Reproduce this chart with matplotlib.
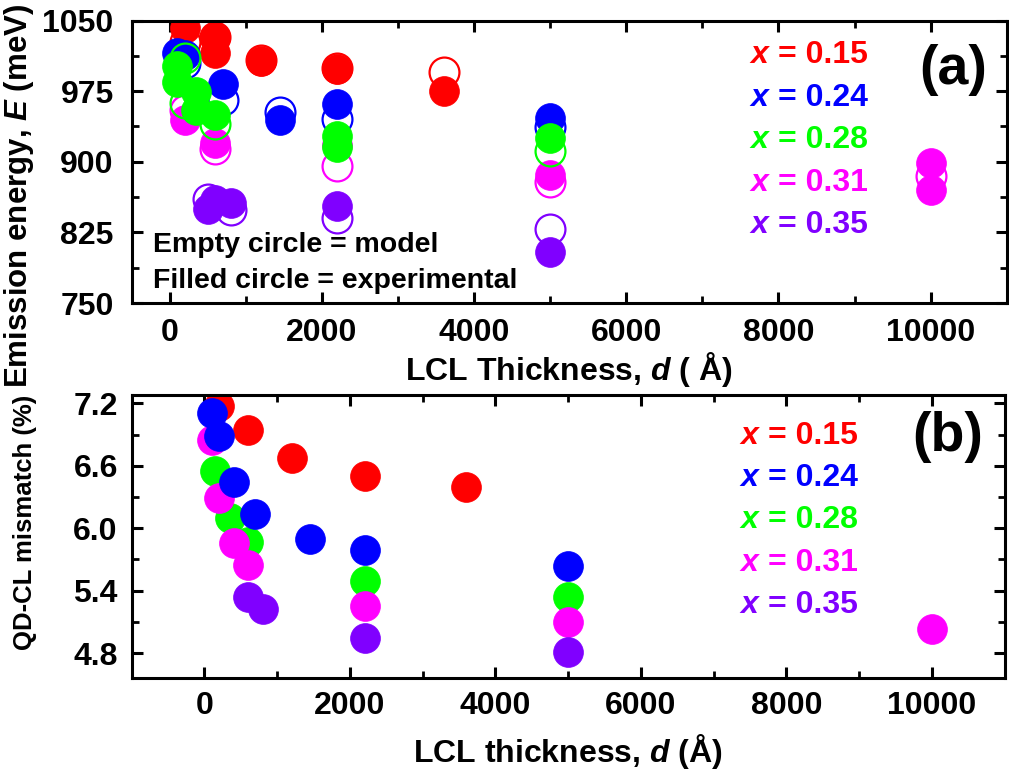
import matplotlib
matplotlib.use("Agg")
import matplotlib.pyplot as plt
from matplotlib.ticker import MultipleLocator

plt.rcParams['font.family'] = ['Liberation Sans', 'DejaVu Sans']
plt.rcParams['font.weight'] = 'bold'
plt.rcParams['mathtext.fontset'] = 'custom'
plt.rcParams['mathtext.rm'] = 'Liberation Sans:bold'
plt.rcParams['mathtext.it'] = 'Liberation Sans:italic:bold'
plt.rcParams['mathtext.bf'] = 'Liberation Sans:bold'

# Compositions and colours
compositions = ['0.15', '0.24', '0.28', '0.31', '0.35']
colors = ['#FF0000', '#0000FF', '#00FF00', '#FF00FF', '#8000FF']

# (a) emission energy (meV) vs LCL thickness (Å): model (open) and experimental (filled)
model_d = {
    '0.15': [200, 600, 1200, 2200, 3600],
    '0.24': [200, 700, 1450, 2200, 5000],
    '0.28': [200, 200, 600, 5000],
    '0.31': [200, 600, 2200, 5000, 10000],
    '0.35': [500, 800, 2200, 5000],
}
model_E = {
    '0.15': [1027, 1033, 1008, 1000, 995],
    '0.24': [1005, 966, 953, 945, 937],
    '0.28': [1010, 962, 940, 911],
    '0.31': [955, 914, 895, 879, 885],
    '0.35': [860, 849, 840, 829],
}
exp_d = {
    '0.15': [200, 600, 600, 1200, 2200, 3600],
    '0.24': [100, 200, 700, 1450, 2200, 5000],
    '0.28': [100, 100, 350, 350, 600, 2200, 2200, 5000],
    '0.31': [200, 600, 2200, 5000, 10000, 10000],
    '0.35': [500, 600, 800, 2200, 5000],
}
exp_E = {
    '0.15': [1042, 1033, 1015, 1007, 998, 975],
    '0.24': [1015, 1013, 983, 944, 961, 946],
    '0.28': [1002, 985, 974, 955, 950, 927, 916, 925],
    '0.31': [944, 920, 918, 886, 899, 870],
    '0.35': [850, 859, 856, 853, 804],
}

# (b) QD-CL lattice mismatch (%) vs LCL thickness (Å)
mis_d = {
    '0.15': [200, 600, 1200, 2200, 3600],
    '0.24': [100, 200, 400, 700, 1450, 2200, 5000],
    '0.28': [150, 350, 600, 2200, 5000],
    '0.31': [100, 200, 400, 600, 2200, 5000, 10000],
    '0.35': [600, 800, 2200, 5000],
}
mis_val = {
    '0.15': [7.17, 6.94, 6.67, 6.50, 6.40],
    '0.24': [7.11, 6.89, 6.44, 6.14, 5.90, 5.79, 5.64],
    '0.28': [6.55, 6.10, 5.87, 5.49, 5.34],
    '0.31': [6.85, 6.29, 5.86, 5.65, 5.25, 5.10, 5.03],
    '0.35': [5.34, 5.22, 4.94, 4.81],
}

color_of = dict(zip(compositions, colors))
order_a = ['0.15', '0.31', '0.24', '0.28', '0.35']
order_b = ['0.15', '0.28', '0.31', '0.24', '0.35']

MS = 21.5
FS = 23
fig = plt.figure(figsize=(10.09, 7.70), dpi=100)
ax_a = fig.add_axes([131.7 / 1009, 1 - 303 / 770, 875 / 1009, 282.5 / 770])
ax_b = fig.add_axes([131.7 / 1009, 1 - 678 / 770, 873 / 1009, 283 / 770])

for k in order_a:
    c = color_of[k]
    ax_a.plot(model_d[k], model_E[k], 'o', ls='none', ms=MS, mfc='none',
              mec=c, mew=1.6)
    ax_a.plot(exp_d[k], exp_E[k], 'o', ls='none', ms=MS, mfc=c, mec=c, mew=0.5)

for k in order_b:
    c = color_of[k]
    ax_b.plot(mis_d[k], mis_val[k], 'o', ls='none', ms=MS, mfc=c, mec=c, mew=0.5)

ax_a.set_xlim(-500, 11000)
ax_a.set_ylim(750, 1050)
ax_a.xaxis.set_major_locator(MultipleLocator(2000))
ax_a.xaxis.set_minor_locator(MultipleLocator(1000))
ax_a.yaxis.set_major_locator(MultipleLocator(75))
ax_a.yaxis.set_minor_locator(MultipleLocator(37.5))

ax_b.set_xlim(-1000, 11000)
ax_b.set_ylim(4.56, 7.28)
ax_b.xaxis.set_major_locator(MultipleLocator(2000))
ax_b.xaxis.set_minor_locator(MultipleLocator(1000))
ax_b.yaxis.set_major_locator(MultipleLocator(0.6))
ax_b.yaxis.set_minor_locator(MultipleLocator(0.3))
ax_b.yaxis.set_major_formatter(plt.FormatStrFormatter('%.1f'))

for ax in (ax_a, ax_b):
    for sp in ax.spines.values():
        sp.set_linewidth(2.2)
    ax.tick_params(which='both', direction='in', top=True, right=True)
    ax.tick_params(which='major', length=8, width=2.2, labelsize=FS)
    ax.tick_params(which='minor', length=5, width=2.0)
    for lab in ax.get_xticklabels() + ax.get_yticklabels():
        lab.set_fontweight('bold')

ax_a.tick_params(axis='y', which='major', pad=13)
ax_a.tick_params(axis='x', which='major', pad=11)
ax_b.tick_params(axis='y', which='major', pad=10)
ax_b.tick_params(axis='x', which='major', pad=9)

ax_a.set_xlabel(r'LCL Thickness, $d$ ( Å)', fontsize=FS, fontweight='bold')
ax_a.set_ylabel(r'Emission energy, $E$ (meV)', fontsize=22.5, fontweight='bold')
ax_a.xaxis.set_label_coords(0.5, -0.168)
ax_a.yaxis.set_label_coords(-0.109, 0.38)

ax_b.set_xlabel(r'LCL thickness, $d$ (Å)', fontsize=FS, fontweight='bold')
ax_b.set_ylabel('QD-CL mismatch (%)', fontsize=18.5, fontweight='bold')
ax_b.xaxis.set_label_coords(0.5, -0.19)
ax_b.yaxis.set_label_coords(-0.109, 0.55)

# composition key
rows_a = [0.878, 0.725, 0.577, 0.425, 0.276]
rows_b = [0.855, 0.707, 0.558, 0.406, 0.258]
for ax, rows, x0, x1 in ((ax_a, rows_a, 0.7066, 0.7386), (ax_b, rows_b, 0.697, 0.729)):
    for k, y in zip(compositions, rows):
        c = color_of[k]
        ax.text(x0, y, 'x', transform=ax.transAxes, color=c, fontsize=FS,
                fontweight='bold', style='italic', ha='left', va='center')
        ax.text(x1, y, '= ' + k, transform=ax.transAxes, color=c, fontsize=FS,
                fontweight='bold', ha='left', va='center')

ax_a.text(0.9386, 0.825, '(a)', transform=ax_a.transAxes, fontsize=40,
          fontweight='bold', ha='center', va='center')
ax_b.text(0.935, 0.852, '(b)', transform=ax_b.transAxes, fontsize=40,
          fontweight='bold', ha='center', va='center')

ax_a.text(0.0243, 0.205, 'Empty circle = model', transform=ax_a.transAxes,
          fontsize=20.5, fontweight='bold', ha='left', va='center')
ax_a.text(0.0243, 0.078, 'Filled circle = experimental', transform=ax_a.transAxes,
          fontsize=20.5, fontweight='bold', ha='left', va='center')

fig.savefig('out.png', dpi=100)
